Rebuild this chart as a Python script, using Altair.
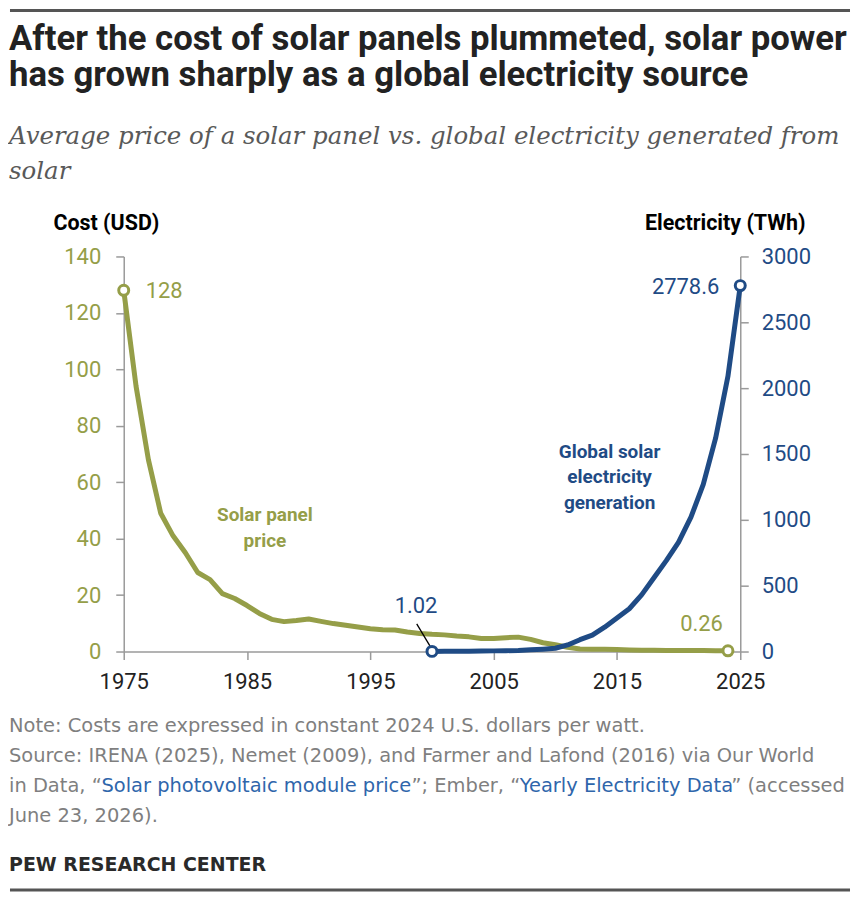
import altair as alt
import pandas as pd

# ---------------- data ----------------
price_years = list(range(1975, 2025))
price_usd = [128, 94, 68, 49, 41, 35, 28, 25.5, 20.5, 18.8,
             16.3, 13.5, 11.4, 10.6, 11.0, 11.5, 10.7, 9.9, 9.3, 8.7,
             8.1, 7.7, 7.6, 6.9, 6.4, 6.1, 5.9, 5.5, 5.2, 4.6,
             4.6, 4.9, 5.1, 4.3, 3.1, 2.4, 1.5, 0.9, 0.83, 0.78,
             0.69, 0.55, 0.48, 0.42, 0.38, 0.36, 0.37, 0.35, 0.30, 0.26]
elec_years = list(range(2000, 2026))
elec_twh = [1.02, 1.4, 2.0, 2.6, 3.7, 4.9, 6.2, 8.1, 12.8, 18,
            25, 50, 90, 125, 185, 255, 325, 430, 560, 690,
            830, 1020, 1270, 1620, 2090, 2778.6]
x_ticks = [1975, 1985, 1995, 2005, 2015, 2025]
cost_ticks = [0, 20, 40, 60, 80, 100, 120, 140]
elec_ticks = [0, 500, 1000, 1500, 2000, 2500, 3000]

title_lines = ["After the cost of solar panels plummeted, solar power",
               "has grown sharply as a global electricity source"]
subtitle_lines = ["Average price of a solar panel vs. global electricity generated from",
                  "solar"]
note_line1 = "Note: Costs are expressed in constant 2024 U.S. dollars per watt."
note_line2 = "Source: IRENA (2025), Nemet (2009), and Farmer and Lafond (2016) via Our World"
note_line3 = ["in Data, \u201c", "Solar photovoltaic module price", "\u201d; Ember, \u201c",
              "Yearly Electricity Data", "\u201d (accessed"]
note_line4 = "June 23, 2026)."
credit = "PEW RESEARCH CENTER"

# ---------------- style ----------------
OLIVE = "#959e48"
BLUE = "#1f4b85"
GRAY_AX = "#9a9a9a"
NOTE_GRAY = "#7f7f7f"
LINK = "#2f66ab"
SANS = "Roboto"
NOTE_FONT = "DejaVu Sans"
SERIF = "DejaVu Serif"

price_df = pd.DataFrame({"year": price_years, "value": price_usd})
elec_df = pd.DataFrame({"year": elec_years, "value": elec_twh})
price_ends = price_df.iloc[[0, -1]].copy()
price_ends["label"] = price_ends["value"].map(lambda v: f"{v:g}")
elec_ends = elec_df.iloc[[0, -1]].copy()
elec_ends["label"] = elec_ends["value"].map(lambda v: f"{v:g}")

X = alt.X("year:Q",
          scale=alt.Scale(domain=[1975, 2025], nice=False, zero=False),
          axis=alt.Axis(values=x_ticks, format="d", title=None, grid=False,
                        labelFlush=False, labelFont=SANS, labelFontSize=22,
                        labelColor="#222222", labelPadding=12, tickSize=8,
                        tickColor=GRAY_AX, domainColor=GRAY_AX, domainWidth=1.5,
                        tickWidth=1.5, labelOverlap=False))

Y_price = alt.Y("value:Q",
                scale=alt.Scale(domain=[0, 140], nice=False),
                axis=alt.Axis(values=cost_ticks, format="d", orient="left", grid=False,
                              title="Cost (USD)", titleAngle=0, titleX=-71, titleY=-27,
                              titleAlign="left", titleBaseline="alphabetic",
                              titleFont=SANS, titleFontSize=21.5, titleFontWeight="bold",
                              titleColor="#000000",
                              labelFont=SANS, labelFontSize=22, labelColor=OLIVE,
                              labelPadding=15, tickSize=8, tickColor=GRAY_AX,
                              tickWidth=1.5, domainColor=GRAY_AX, domainWidth=1.5,
                              labelFlush=False, labelOverlap=False))

Y_elec = alt.Y("value:Q",
               scale=alt.Scale(domain=[0, 3000], nice=False),
               axis=alt.Axis(values=elec_ticks, format="d", orient="right", grid=False,
                             title="Electricity (TWh)", titleAngle=0, titleX=65, titleY=-27,
                             titleAlign="right", titleBaseline="alphabetic",
                             titleFont=SANS, titleFontSize=21.5, titleFontWeight="bold",
                             titleColor="#000000",
                             labelFont=SANS, labelFontSize=22, labelColor=BLUE,
                             labelPadding=13, tickSize=8, tickColor=GRAY_AX,
                             tickWidth=1.5, domainColor=GRAY_AX, domainWidth=1.5,
                             labelFlush=False, labelOverlap=False))

one = pd.DataFrame({"k": [0]})


def deco_text(text, x, y, **kw):
    return alt.Chart(one).mark_text(text=text, **kw).encode(
        x=alt.value(x), y=alt.value(y))


# ---------------- price layer ----------------
price_line = alt.Chart(price_df).mark_line(
    color=OLIVE, strokeWidth=5, strokeJoin="round").encode(x=X, y=Y_price)
price_pts = alt.Chart(price_ends).mark_circle(
    fill="white", stroke=OLIVE, strokeWidth=3, size=100, opacity=1
).encode(x=X, y=Y_price)
price_lab_a = alt.Chart(price_ends.iloc[[0]]).mark_text(
    align="left", baseline="middle", dx=22, dy=1, font=SANS, fontSize=22, color=OLIVE
).encode(x=X, y=Y_price, text="label:N")
price_lab_b = alt.Chart(price_ends.iloc[[1]]).mark_text(
    align="right", baseline="middle", dx=-5, dy=-27, font=SANS, fontSize=22, color=OLIVE
).encode(x=X, y=Y_price, text="label:N")
price_series = deco_text(["Solar panel", "price"], 141.5, 265, align="center",
                         baseline="alphabetic", font=SANS, fontSize=19,
                         fontWeight="bold", color=OLIVE, lineHeight=26)

# decorations (title, subtitle, notes, rules)
top_rule = alt.Chart(one).mark_rule(color="#555555", strokeWidth=3).encode(
    x=alt.value(-114), x2=alt.value(728), y=alt.value(-246.5))
bottom_rule = alt.Chart(one).mark_rule(color="#555555", strokeWidth=3).encode(
    x=alt.value(-114), x2=alt.value(728), y=alt.value(635))
title = deco_text(title_lines, -115, -207, align="left", baseline="alphabetic",
                  font=SANS, fontSize=34.8, fontWeight="bold", color="#222222",
                  lineHeight=36.5)
subtitle = deco_text(subtitle_lines, -115, -113, align="left", baseline="alphabetic",
                     font=SERIF, fontSize=24.5, fontStyle="italic", color="#595959",
                     lineHeight=35)
nkw = dict(align="left", baseline="alphabetic", font=NOTE_FONT, fontSize=19.5)
n1 = deco_text(note_line1, -115, 476.7, color=NOTE_GRAY, **nkw)
n2 = deco_text(note_line2, -115, 506.5, color=NOTE_GRAY, **nkw)
seg_x = [-115, -22.3, 288.5, 396.9, 609]
seg_c = [NOTE_GRAY, LINK, NOTE_GRAY, LINK, NOTE_GRAY]
n3 = [deco_text(t, sx, 537, color=c, **nkw) for t, sx, c in zip(note_line3, seg_x, seg_c)]
n4 = deco_text(note_line4, -115, 567, color=NOTE_GRAY, **nkw)
pew = deco_text(credit, -115, 615.5, align="left", baseline="alphabetic", font=NOTE_FONT,
                fontSize=19, fontWeight="bold", color="#2a2a2a")

price_layer = alt.layer(price_line, price_pts, price_lab_a, price_lab_b, price_series,
                        top_rule, bottom_rule, title, subtitle, n1, n2, *n3, n4, pew)

# ---------------- electricity layer ----------------
elec_line = alt.Chart(elec_df).mark_line(
    color=BLUE, strokeWidth=5, strokeJoin="round").encode(x=X, y=Y_elec)
leader = alt.Chart(elec_ends.iloc[[0]]).mark_rule(
    color="#000000", strokeWidth=1.3, xOffset=-15.3, yOffset=-27.6,
    x2Offset=-0.3, y2Offset=-2.6
).encode(x=X, y=Y_elec, x2="year:Q", y2="value:Q")
elec_pts = alt.Chart(elec_ends).mark_circle(
    fill="white", stroke=BLUE, strokeWidth=3, size=100, opacity=1
).encode(x=X, y=Y_elec)
elec_lab_a = alt.Chart(elec_ends.iloc[[0]]).mark_text(
    align="center", baseline="middle", dx=-16, dy=-45, font=SANS, fontSize=22, color=BLUE
).encode(x=X, y=Y_elec, text="label:N")
elec_lab_b = alt.Chart(elec_ends.iloc[[1]]).mark_text(
    align="right", baseline="middle", dx=-21, dy=1, font=SANS, fontSize=22, color=BLUE
).encode(x=X, y=Y_elec, text="label:N")
elec_series = deco_text(["Global solar", "electricity", "generation"], 487, 201.7,
                        align="center", baseline="alphabetic", font=SANS, fontSize=19,
                        fontWeight="bold", color=BLUE, lineHeight=25.7)

elec_layer = alt.layer(elec_line, leader, elec_pts, elec_lab_a, elec_lab_b, elec_series)

chart = (
    alt.layer(price_layer, elec_layer)
    .resolve_scale(y="independent")
    .properties(width=618, height=396, padding=0)
    .configure_view(strokeWidth=0)
)

chart.save("out.html", embed_options={"renderer": "svg", "actions": False})
